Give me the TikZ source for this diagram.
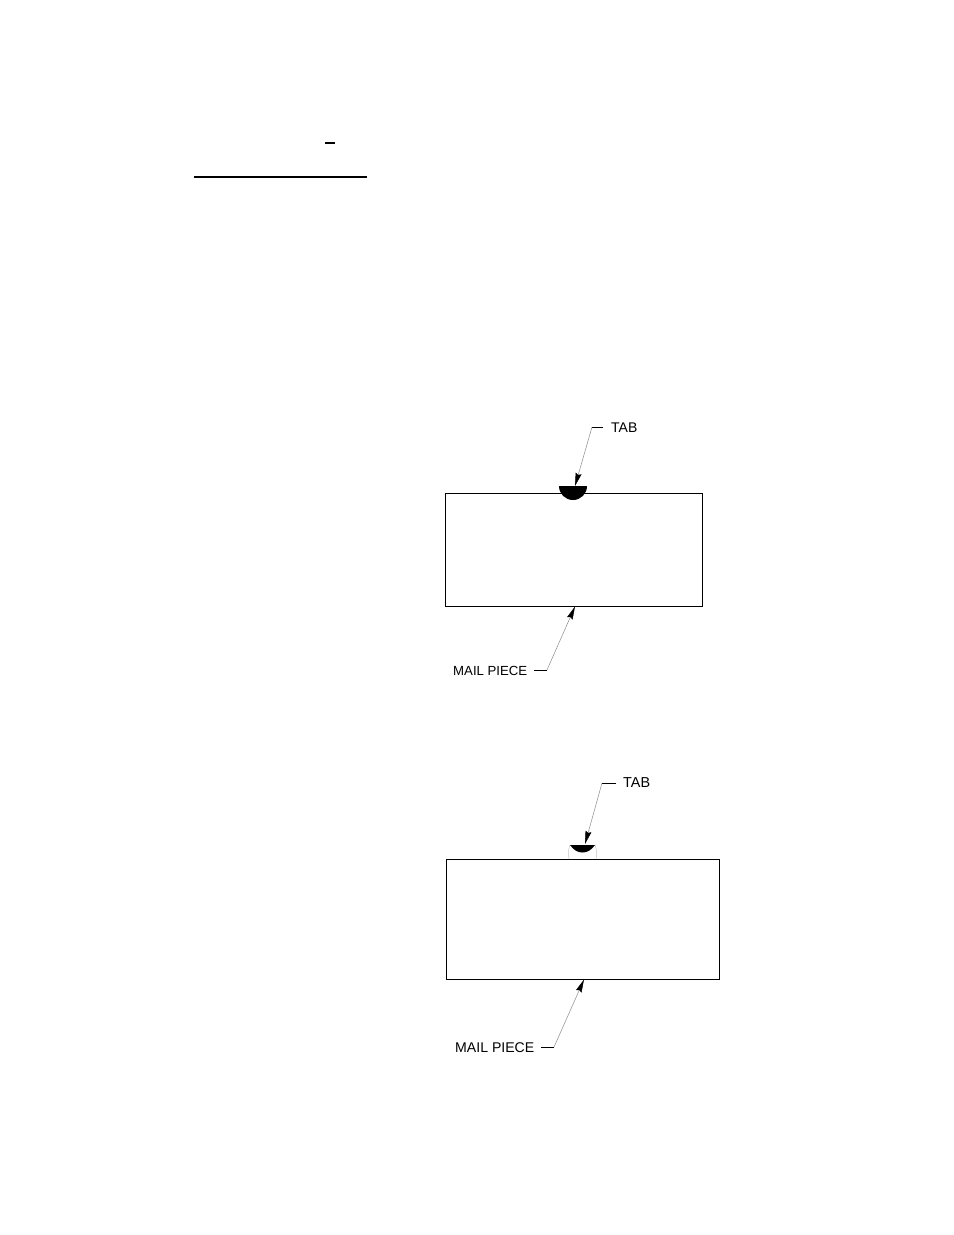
\documentclass[tikz,border=0pt]{standalone}
\usepackage{fontspec}
\setmainfont{Liberation Sans}
\usetikzlibrary{arrows.meta}
\tikzset{
  x=1bp,y=-1bp,
  piece/.style={draw=black,line width=0.9bp,fill=white},
  leader/.style={draw=black!45,line width=0.5bp},
  shelf/.style={draw=black,line width=0.9bp},
  tiphead/.style={-{Stealth[length=13bp,width=6bp,inset=1.5bp,black]}},
  labeltext/.style={anchor=west,inner sep=0pt,text=black},
  tabfill/.style={fill=black,draw=none},
  ghost/.style={draw=black!22,line width=0.5bp}
}
\begin{document}
\begin{tikzpicture}
\useasboundingbox[fill=white] (0,0) rectangle (954,1235);
% header marks
\coordinate (d1) at (325,143); \coordinate (d2) at (335,143);
\draw[black,line width=1.7bp] (d1) -- (d2);
\coordinate (r1) at (194,177); \coordinate (r2) at (367,177);
\draw[black,line width=2.3bp] (r1) -- (r2);
% upper figure
\node[piece,minimum width=256.5bp,minimum height=113bp,inner sep=0pt,anchor=north west] (mail1) at (445,493) {};
\fill[tabfill] (559,486) arc[start angle=180,end angle=360,x radius=14,y radius=-14] -- cycle;
\coordinate (tip1) at (575,486);
\coordinate (bend1) at (592,427);
\node[labeltext,font=\fontsize{14bp}{14bp}\selectfont] (tab1) at (611,428) {TAB};
\coordinate (stub1) at (603,427);
\draw[shelf] (stub1) -- (bend1);
\draw[leader,tiphead] (bend1) -- (tip1);
\node[labeltext,font=\fontsize{13.2bp}{14bp}\selectfont] (mp1) at (453,671) {MAIL PIECE};
\coordinate (stub2) at (534,670);
\coordinate (bend2) at (547,670);
\coordinate (tip2) at (575,606.5);
\draw[shelf] (stub2) -- (bend2);
\draw[leader,tiphead] (bend2) -- (tip2);
% lower figure
\node[piece,minimum width=272.8bp,minimum height=120bp,inner sep=0pt,anchor=north west] (mail2) at (446,859) {};
\draw[ghost] (570,845) .. controls (568,850) and (568,854) .. (569,859);
\draw[ghost] (595,845) .. controls (597,850) and (597,854) .. (596,859);
\fill[tabfill] (570,845) .. controls (574,850.5) and (578,852.5) .. (582.5,852.5) .. controls (587,852.5) and (591,850.5) .. (595,845) -- cycle;
\coordinate (tip3) at (585,844);
\coordinate (bend3) at (602,783);
\node[labeltext,font=\fontsize{14.4bp}{14bp}\selectfont] (tab2) at (623,783) {TAB};
\coordinate (stub3) at (616,783);
\draw[shelf] (stub3) -- (bend3);
\draw[leader,tiphead] (bend3) -- (tip3);
\node[labeltext,font=\fontsize{14.1bp}{14bp}\selectfont] (mp2) at (455,1048) {MAIL PIECE};
\coordinate (stub4) at (541,1047);
\coordinate (bend4) at (554,1047);
\coordinate (tip4) at (584,979.5);
\draw[shelf] (stub4) -- (bend4);
\draw[leader,tiphead] (bend4) -- (tip4);
\end{tikzpicture}
\end{document}
